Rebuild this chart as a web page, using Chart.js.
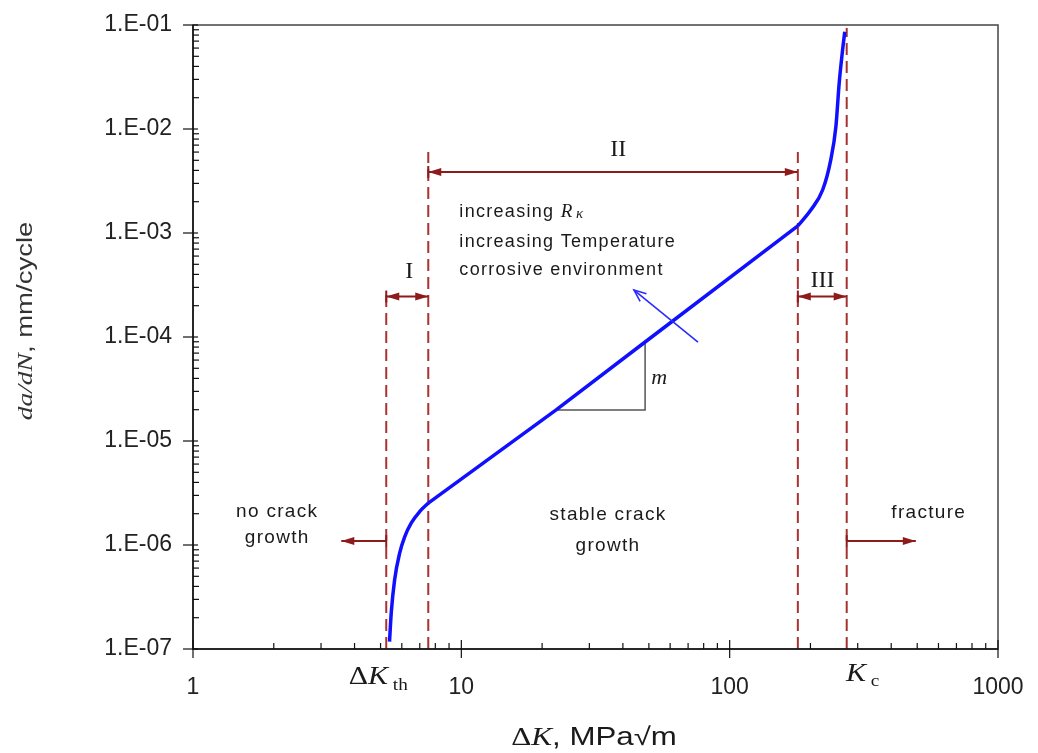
<!DOCTYPE html>
<html lang="en">
<head>
    <meta charset="UTF-8">
    <title>Fatigue crack growth rate</title>
    <script src="https://cdn.jsdelivr.net/npm/chart.js"></script>
    <style>
        html, body { margin: 0; padding: 0; background: #fff; }
        #wrap { width: 1038px; height: 753px; }
    </style>
</head>
<body>
    <div id="wrap"><canvas id="crackChart" width="1038" height="753"></canvas></div>
    <script>
        // crack growth curve (dK in MPa*sqrt(m), da/dN in mm/cycle)
        // split into threshold knee, Paris line and unstable tail
        const kneeK = [5.40, 5.48, 5.64, 5.89, 6.15, 6.51, 6.99, 7.53];
        const kneeRate = [1.175e-7, 2.22e-7, 4.61e-7, 8.37e-7, 1.20e-6, 1.63e-6, 2.09e-6, 2.53e-6];
        const parisK = [7.53, 22.56, 48.4, 179.5];
        const parisRate = [2.53e-6, 1.99e-5, 8.95e-5, 1.17e-3];
        const tailK = [179.5, 200.6, 222, 238, 248.8, 255.9, 263.5, 268.5];
        const tailRate = [1.17e-3, 1.66e-3, 2.59e-3, 5.03e-3, 1.05e-2, 2.75e-2, 5.75e-2, 8.6e-2];

        // region boundaries: dK_th, I/II, II/III, K_c
        const boundaryK = [5.25, 7.53, 179.5, 273];
        const boundaryTop = [2.83e-4, 6.0e-3, 6.0e-3, 9.35e-2];

        // slope triangle
        const slopeK = [22.56, 48.4, 48.4];
        const slopeRate = [1.99e-5, 1.99e-5, 8.95e-5];

        const xTicks = [1, 10, 100, 1000];
        const xTickLabels = ["1", "10", "100", "1000"];
        const yTicks = [1e-7, 1e-6, 1e-5, 1e-4, 1e-3, 1e-2, 1e-1];
        const yTickLabels = ["1.E-07", "1.E-06", "1.E-05", "1.E-04", "1.E-03", "1.E-02", "1.E-01"];

        // region arrows, heads at both ends unless noted
        const regionArrows = [
            { x1: 7.53, x2: 179.5, y: 3.86e-3, both: true },
            { x1: 5.25, x2: 7.53, y: 2.45e-4, both: true },
            { x1: 179.5, x2: 273, y: 2.45e-4, both: true },
            { x1: 5.25, x2: 3.57, y: 1.09e-6, both: false },
            { x1: 273, x2: 494, y: 1.09e-6, both: false }
        ];
        const trendArrow = { x1: 76.2, y1: 8.95e-5, x2: 44.0, y2: 2.83e-4 };

        const serif = '"Liberation Serif", "DejaVu Serif", serif';
        const sans = '"Liberation Sans", Arial, sans-serif';
        const darkRed = "#8e1b1b";
        const dashRed = "#a83232";

        // notes placed in data coordinates
        const notes = [
            { x: 38.4, y: 6.28e-3, runs: [{ t: "II", f: "24px " + serif }], align: "center" },
            { x: 6.40, y: 4.22e-4, runs: [{ t: "I", f: "24px " + serif }], align: "center" },
            { x: 222, y: 3.46e-4, runs: [{ t: "III", f: "24px " + serif }], align: "center" },
            { x: 9.83, y: 1.59e-3, runs: [{ t: "increasing ", f: "18px " + sans, ls: 1.3 }, { t: "R", f: "italic 19px " + serif }, { t: " κ", f: "italic 15px " + serif, dy: 2 }], align: "left" },
            { x: 9.83, y: 8.18e-4, runs: [{ t: "increasing Temperature", f: "18px " + sans, ls: 1.3 }], align: "left" },
            { x: 9.83, y: 4.41e-4, runs: [{ t: "corrosive environment", f: "18px " + sans, ls: 1.3 }], align: "left" },
            { x: 54.6, y: 4.04e-5, runs: [{ t: "m", f: "italic 22px " + serif }], align: "center" },
            { x: 2.06, y: 2.07e-6, runs: [{ t: "no crack", f: "19px " + sans, ls: 1.3 }], align: "center" },
            { x: 2.06, y: 1.17e-6, runs: [{ t: "growth", f: "19px " + sans, ls: 1.3 }], align: "center" },
            { x: 35.2, y: 1.94e-6, runs: [{ t: "stable crack", f: "19px " + sans, ls: 1.3 }], align: "center" },
            { x: 35.2, y: 9.77e-7, runs: [{ t: "growth", f: "19px " + sans, ls: 1.3 }], align: "center" },
            { x: 552, y: 2.03e-6, runs: [{ t: "fracture", f: "19px " + sans, ls: 1.3 }], align: "center" }
        ];

        function runsWidth(ctx, runs) {
            let w = 0;
            runs.forEach(r => {
                ctx.font = r.f;
                ctx.letterSpacing = (r.ls || 0) + "px";
                w += ctx.measureText(r.t).width;
            });
            return w;
        }

        function drawRuns(ctx, runs, x, y, align, color) {
            ctx.save();
            ctx.fillStyle = color || "#1a1a1a";
            ctx.textBaseline = "middle";
            ctx.textAlign = "left";
            const w = runsWidth(ctx, runs);
            let cx = align === "center" ? x - w / 2 : align === "right" ? x - w : x;
            runs.forEach(r => {
                ctx.font = r.f;
                ctx.letterSpacing = (r.ls || 0) + "px";
                ctx.fillText(r.t, cx, y + (r.dy || 0));
                cx += ctx.measureText(r.t).width;
            });
            ctx.restore();
        }

        // text stretched along its direction, as in the source figure
        function drawStretched(ctx, runs, x, y, sx, angle, color) {
            ctx.save();
            ctx.translate(x, y);
            if (angle) ctx.rotate(angle);
            ctx.scale(sx, 1);
            drawRuns(ctx, runs, 0, 0, "center", color);
            ctx.restore();
        }

        function arrowHead(ctx, x1, y1, x2, y2, len, half, filled) {
            const a = Math.atan2(y2 - y1, x2 - x1);
            const bx = x2 - len * Math.cos(a), by = y2 - len * Math.sin(a);
            const px = -Math.sin(a) * half, py = Math.cos(a) * half;
            ctx.beginPath();
            ctx.moveTo(bx + px, by + py);
            ctx.lineTo(x2, y2);
            ctx.lineTo(bx - px, by - py);
            if (filled) { ctx.closePath(); ctx.fill(); } else ctx.stroke();
        }

        const decorPlugin = {
            id: "decor",
            afterDatasetsDraw(chart) {
                const ctx = chart.ctx;
                const xs = chart.scales.x, ys = chart.scales.y;
                const a = chart.chartArea;

                // frame
                ctx.save();
                ctx.strokeStyle = "#444";
                ctx.lineWidth = 1.5;
                ctx.strokeRect(a.left, a.top, a.right - a.left, a.bottom - a.top);
                ctx.strokeStyle = "#111";
                ctx.beginPath();
                ctx.moveTo(a.left, a.top);
                ctx.lineTo(a.left, a.bottom);
                ctx.lineTo(a.right, a.bottom);
                ctx.stroke();

                // ticks
                ctx.lineWidth = 1.2;
                xTicks.forEach((d, i) => {
                    const px = xs.getPixelForValue(d);
                    ctx.beginPath();
                    ctx.moveTo(px, a.bottom + 9);
                    ctx.lineTo(px, a.bottom - 9);
                    ctx.stroke();
                    if (i === xTicks.length - 1) return;
                    for (let k = 2; k < 10; k++) {
                        const p = xs.getPixelForValue(k * d);
                        ctx.beginPath();
                        ctx.moveTo(p, a.bottom);
                        ctx.lineTo(p, a.bottom - 6);
                        ctx.stroke();
                    }
                });
                yTicks.forEach((d, i) => {
                    const py = ys.getPixelForValue(d);
                    ctx.beginPath();
                    ctx.moveTo(a.left - 10, py);
                    ctx.lineTo(a.left + 5, py);
                    ctx.stroke();
                    if (i === yTicks.length - 1) return;
                    for (let k = 2; k < 10; k++) {
                        const p = ys.getPixelForValue(k * d);
                        ctx.beginPath();
                        ctx.moveTo(a.left, p);
                        ctx.lineTo(a.left + 6, p);
                        ctx.stroke();
                    }
                });

                // region arrows
                ctx.strokeStyle = darkRed;
                ctx.fillStyle = darkRed;
                ctx.lineWidth = 2;
                regionArrows.forEach(r => {
                    const x1 = xs.getPixelForValue(r.x1), x2 = xs.getPixelForValue(r.x2);
                    const y = ys.getPixelForValue(r.y);
                    ctx.beginPath();
                    ctx.moveTo(x1, y);
                    ctx.lineTo(x2, y);
                    ctx.stroke();
                    arrowHead(ctx, x1, y, x2, y, 13, 4, true);
                    if (r.both) arrowHead(ctx, x2, y, x1, y, 13, 4, true);
                    ctx.beginPath();
                    ctx.moveTo(x1, y - 6);
                    ctx.lineTo(x1, y + 6);
                    ctx.stroke();
                });

                // trend arrow
                ctx.strokeStyle = "#2a2aff";
                ctx.lineWidth = 1.6;
                const tx1 = xs.getPixelForValue(trendArrow.x1), ty1 = ys.getPixelForValue(trendArrow.y1);
                const tx2 = xs.getPixelForValue(trendArrow.x2), ty2 = ys.getPixelForValue(trendArrow.y2);
                ctx.beginPath();
                ctx.moveTo(tx1, ty1);
                ctx.lineTo(tx2, ty2);
                ctx.stroke();
                arrowHead(ctx, tx1, ty1, tx2, ty2, 12, 5, false);
                ctx.restore();

                notes.forEach(n => {
                    drawRuns(ctx, n.runs, xs.getPixelForValue(n.x), ys.getPixelForValue(n.y), n.align);
                });

                // threshold and critical labels under the axis
                const kth = xs.getPixelForValue(boundaryK[0]);
                drawStretched(ctx, [
                    { t: "Δ", f: "25px " + serif },
                    { t: "K", f: "italic 25px " + serif },
                    { t: " th", f: "16px " + serif, dy: 9 }
                ], kth - 8, 677, 1.2);
                const kc = xs.getPixelForValue(boundaryK[3]);
                drawStretched(ctx, [
                    { t: "K", f: "italic 25px " + serif },
                    { t: " c", f: "16px " + serif, dy: 8 }
                ], kc + 16, 674, 1.2);

                // axis titles
                drawStretched(ctx, [
                    { t: "Δ", f: "25px " + serif },
                    { t: "K", f: "italic 25px " + serif },
                    { t: ", MPa√m", f: "25px " + sans }
                ], 594, 738, 1.25);
                drawStretched(ctx, [
                    { t: "da/dN", f: "italic 22px " + serif },
                    { t: ", mm/cycle", f: "22px " + sans }
                ], 26, 321, 1.25, -Math.PI / 2, "#333");
            }
        };

        const curveStyle = {
            borderColor: "#1010ff",
            borderWidth: 3.5,
            pointRadius: 0,
            fill: false
        };

        const boundarySets = boundaryK.map((k, i) => ({
            data: [{ x: k, y: 1e-7 }, { x: k, y: boundaryTop[i] }],
            borderColor: dashRed,
            borderWidth: 2,
            borderDash: [12, 6],
            pointRadius: 0,
            fill: false
        }));

        new Chart(document.getElementById("crackChart"), {
            type: "line",
            data: {
                datasets: [
                    { ...curveStyle, data: kneeK.map((k, i) => ({ x: k, y: kneeRate[i] })), cubicInterpolationMode: "monotone" },
                    { ...curveStyle, data: parisK.map((k, i) => ({ x: k, y: parisRate[i] })), tension: 0 },
                    { ...curveStyle, data: tailK.map((k, i) => ({ x: k, y: tailRate[i] })), cubicInterpolationMode: "monotone" },
                    {
                        data: slopeK.map((k, i) => ({ x: k, y: slopeRate[i] })),
                        borderColor: "#555",
                        borderWidth: 1.5,
                        pointRadius: 0,
                        fill: false
                    },
                    ...boundarySets
                ]
            },
            options: {
                responsive: false,
                animation: false,
                layout: { padding: { left: 0, right: 40, top: 25, bottom: 0 } },
                plugins: { legend: { display: false }, tooltip: { enabled: false } },
                scales: {
                    x: {
                        type: "logarithmic",
                        min: 1,
                        max: 1000,
                        afterBuildTicks: s => { s.ticks = xTicks.map(v => ({ value: v })); },
                        afterFit: s => {
                            s.height = 104;
                            s.paddingLeft = 0;
                            s.paddingRight = 0;
                        },
                        grid: { display: false, drawTicks: false },
                        border: { display: false },
                        ticks: {
                            autoSkip: false,
                            maxRotation: 0,
                            padding: 25,
                            color: "#222",
                            font: { family: sans, size: 23 },
                            callback: (v, i) => xTickLabels[i]
                        }
                    },
                    y: {
                        type: "logarithmic",
                        min: 1e-7,
                        max: 1e-1,
                        afterBuildTicks: s => { s.ticks = yTicks.map(v => ({ value: v })); },
                        afterFit: s => {
                            s.width = 193;
                            s.paddingTop = 0;
                            s.paddingBottom = 0;
                        },
                        grid: { display: false, drawTicks: false },
                        border: { display: false },
                        ticks: {
                            autoSkip: false,
                            padding: 21,
                            color: "#222",
                            font: { family: sans, size: 23 },
                            callback: (v, i) => yTickLabels[i]
                        }
                    }
                }
            },
            plugins: [decorPlugin]
        });
    </script>
</body>
</html>
